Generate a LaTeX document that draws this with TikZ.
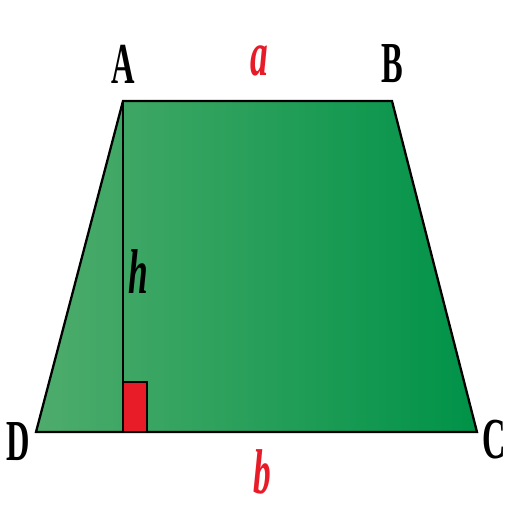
\documentclass[tikz,border=0pt]{standalone}
\usepackage{fontspec}
\setmainfont{Liberation Serif}
\begin{document}
\definecolor{greenL}{RGB}{78,172,108}
\definecolor{greenR}{RGB}{0,146,72}
\definecolor{markred}{RGB}{232,28,40}
\tikzset{
  vertex/.style={font=\fontsize{33}{33}\selectfont\bfseries, inner sep=0pt},
  side/.style={font=\fontsize{36}{36}\selectfont\bfseries\itshape, inner sep=0pt, text=markred},
}
\newcommand{\narrow}[1]{\scalebox{0.56}[1]{#1}}
\begin{tikzpicture}[x=0.02cm, y=-0.02cm]
  \useasboundingbox (0,0) rectangle (512,512);
  \coordinate (A) at (123,101);
  \coordinate (B) at (392,101);
  \coordinate (C) at (477,432);
  \coordinate (D) at (36,432);
  \coordinate (H) at (123,432);
  \shade[left color=greenL, right color=greenR] (A) -- (B) -- (C) -- (D) -- cycle;
  \draw[line width=1.3pt, line join=miter] (A) -- (B) -- (C) -- (D) -- cycle;
  \draw[line width=0.6pt] (A) -- (H);
  \draw[fill=markred, line width=0.8pt] (H) rectangle (147,382);
  \node[vertex] (lA) at (123,64) {\narrow{A}};
  \node[vertex] (lB) at (392,64) {\narrow{B}};
  \node[vertex] (lC) at (494,440) {\narrow{C}};
  \node[vertex] (lD) at (18,442) {\narrow{D}};
  \node[side, anchor=base] (la) at (259,75) {\narrow{a}};
  \node[side, anchor=base] (lb) at (262,493) {\narrow{b}};
  \node[side, anchor=base, text=black] (lh) at (138,293) {\narrow{h}};
\end{tikzpicture}
\end{document}
